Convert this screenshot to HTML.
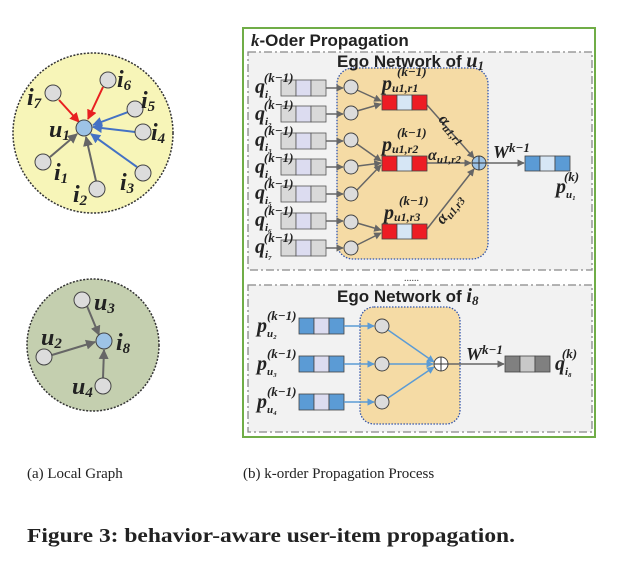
<!DOCTYPE html>
<html><head><meta charset="utf-8"><style>
html,body{margin:0;padding:0;background:#fff;}
svg{display:block;}
.m{font-family:"Liberation Serif",serif;font-weight:bold;font-style:italic;fill:#222;}
.s{font-family:"Liberation Sans",sans-serif;font-weight:bold;fill:#222;}
.c{font-family:"Liberation Serif",serif;fill:#222;}
</style></head><body>
<svg width="622" height="570" viewBox="0 0 622 570" xmlns="http://www.w3.org/2000/svg">
<defs>
<marker id="ag" viewBox="0 0 10 10" refX="9" refY="5" markerWidth="5" markerHeight="5" orient="auto"><path d="M0,0L10,5L0,10z" fill="#666"/></marker>
<marker id="ar" viewBox="0 0 10 10" refX="9" refY="5" markerWidth="5" markerHeight="5" orient="auto"><path d="M0,0L10,5L0,10z" fill="#e82020"/></marker>
<marker id="ab" viewBox="0 0 10 10" refX="9" refY="5" markerWidth="5" markerHeight="5" orient="auto"><path d="M0,0L10,5L0,10z" fill="#4472c4"/></marker>
<marker id="al" viewBox="0 0 10 10" refX="9" refY="5" markerWidth="5" markerHeight="5" orient="auto"><path d="M0,0L10,5L0,10z" fill="#5b9bd5"/></marker>
</defs>

<circle cx="93" cy="133" r="80" fill="#f7f5b8" stroke="#333" stroke-width="1.5" stroke-dasharray="2,1.5"/>
<g stroke-width="2">
<line x1="59" y1="100" x2="79" y2="122" stroke="#e82020" marker-end="url(#ar)"/>
<line x1="103" y1="87" x2="88" y2="119" stroke="#e82020" marker-end="url(#ar)"/>
<line x1="128" y1="112" x2="93" y2="125" stroke="#4472c4" marker-end="url(#ab)"/>
<line x1="135" y1="132" x2="93" y2="127" stroke="#4472c4" marker-end="url(#ab)"/>
<line x1="137" y1="167" x2="91" y2="134" stroke="#4472c4" marker-end="url(#ab)"/>
<line x1="50" y1="157" x2="77" y2="134" stroke="#666" marker-end="url(#ag)"/>
<line x1="96" y1="181" x2="86" y2="137" stroke="#666" marker-end="url(#ag)"/>
</g>
<g fill="#dcdcdc" stroke="#444" stroke-width="1">
<circle cx="53" cy="93" r="8"/><circle cx="108" cy="80" r="8"/><circle cx="135" cy="109" r="8"/>
<circle cx="143" cy="132" r="8"/><circle cx="143" cy="173" r="8"/><circle cx="97" cy="189" r="8"/><circle cx="43" cy="162" r="8"/>
</g>
<circle cx="84" cy="128" r="8" fill="#9dc3e6" stroke="#444"/>
<g class="m" font-size="24">
<text x="49" y="137">u<tspan font-size="15" dy="3">1</tspan></text>
<text x="27" y="105">i<tspan font-size="15" dy="3">7</tspan></text>
<text x="117" y="87">i<tspan font-size="15" dy="3">6</tspan></text>
<text x="141" y="108">i<tspan font-size="15" dy="3">5</tspan></text>
<text x="151" y="140">i<tspan font-size="15" dy="3">4</tspan></text>
<text x="120" y="190">i<tspan font-size="15" dy="3">3</tspan></text>
<text x="73" y="202">i<tspan font-size="15" dy="3">2</tspan></text>
<text x="54" y="180">i<tspan font-size="15" dy="3">1</tspan></text>
</g>

<circle cx="93" cy="345" r="66" fill="#c4cfaf" stroke="#333" stroke-width="1.5" stroke-dasharray="2,1.5"/>
<g stroke-width="2" stroke="#666">
<line x1="87" y1="306" x2="99" y2="335" marker-end="url(#ag)"/>
<line x1="52" y1="355" x2="95" y2="342" marker-end="url(#ag)"/>
<line x1="103" y1="378" x2="104" y2="350" marker-end="url(#ag)"/>
</g>
<g fill="#dcdcdc" stroke="#444"><circle cx="82" cy="300" r="8"/><circle cx="44" cy="357" r="8"/><circle cx="103" cy="386" r="8"/></g>
<circle cx="104" cy="341" r="8" fill="#9dc3e6" stroke="#444"/>
<g class="m" font-size="24">
<text x="94" y="310">u<tspan font-size="15" dy="3">3</tspan></text>
<text x="41" y="345">u<tspan font-size="15" dy="3">2</tspan></text>
<text x="116" y="350">i<tspan font-size="15" dy="3">8</tspan></text>
<text x="72" y="394">u<tspan font-size="15" dy="3">4</tspan></text>
</g>

<rect x="243" y="28" width="352" height="409" fill="#fff" stroke="#70ad47" stroke-width="2"/>
<rect x="248" y="52" width="344" height="218" fill="#f2f2f2" stroke="#888" stroke-width="1.3" stroke-dasharray="8,3,2,3"/>
<rect x="248" y="285" width="344" height="147" fill="#f2f2f2" stroke="#888" stroke-width="1.3" stroke-dasharray="8,3,2,3"/>
<text x="251" y="46" class="s" font-size="17"><tspan font-style="italic" font-family="Liberation Serif,serif">k</tspan>-Oder Propagation</text>
<text x="404" y="281" font-size="10" fill="#444">......</text>
<rect x="337" y="68" width="151" height="191" rx="16" fill="#f5dba5" stroke="#3355aa" stroke-width="1.3" stroke-dasharray="1.5,1.5"/>
<text x="337" y="67" class="s" font-size="17">Ego Network of <tspan class="m" font-size="20">u</tspan><tspan class="m" font-size="13" dy="3">1</tspan></text>

<g stroke="#555" stroke-width="0.8">
<rect x="281" y="80" width="15" height="16" fill="#d9d9d9"/><rect x="296" y="80" width="15" height="16" fill="#dcdcf0"/><rect x="311" y="80" width="15" height="16" fill="#d9d9d9"/>
<rect x="281" y="106" width="15" height="16" fill="#d9d9d9"/><rect x="296" y="106" width="15" height="16" fill="#dcdcf0"/><rect x="311" y="106" width="15" height="16" fill="#d9d9d9"/>
<rect x="281" y="133" width="15" height="16" fill="#d9d9d9"/><rect x="296" y="133" width="15" height="16" fill="#dcdcf0"/><rect x="311" y="133" width="15" height="16" fill="#d9d9d9"/>
<rect x="281" y="159" width="15" height="16" fill="#d9d9d9"/><rect x="296" y="159" width="15" height="16" fill="#dcdcf0"/><rect x="311" y="159" width="15" height="16" fill="#d9d9d9"/>
<rect x="281" y="186" width="15" height="16" fill="#d9d9d9"/><rect x="296" y="186" width="15" height="16" fill="#dcdcf0"/><rect x="311" y="186" width="15" height="16" fill="#d9d9d9"/>
<rect x="281" y="213" width="15" height="16" fill="#d9d9d9"/><rect x="296" y="213" width="15" height="16" fill="#dcdcf0"/><rect x="311" y="213" width="15" height="16" fill="#d9d9d9"/>
<rect x="281" y="240" width="15" height="16" fill="#d9d9d9"/><rect x="296" y="240" width="15" height="16" fill="#dcdcf0"/><rect x="311" y="240" width="15" height="16" fill="#d9d9d9"/>
</g>
<g stroke="#666" stroke-width="1.5">
<line x1="326" y1="88" x2="343" y2="88" marker-end="url(#ag)"/>
<line x1="326" y1="114" x2="343" y2="114" marker-end="url(#ag)"/>
<line x1="326" y1="141" x2="343" y2="141" marker-end="url(#ag)"/>
<line x1="326" y1="167" x2="343" y2="167" marker-end="url(#ag)"/>
<line x1="326" y1="194" x2="343" y2="194" marker-end="url(#ag)"/>
<line x1="326" y1="221" x2="343" y2="221" marker-end="url(#ag)"/>
<line x1="326" y1="248" x2="343" y2="248" marker-end="url(#ag)"/>
<line x1="357" y1="90" x2="381" y2="101" marker-end="url(#ag)"/>
<line x1="357" y1="111" x2="381" y2="104" marker-end="url(#ag)"/>
<line x1="357" y1="144" x2="381" y2="161" marker-end="url(#ag)"/>
<line x1="358" y1="166" x2="381" y2="163" marker-end="url(#ag)"/>
<line x1="357" y1="190" x2="381" y2="165" marker-end="url(#ag)"/>
<line x1="357" y1="223" x2="381" y2="230" marker-end="url(#ag)"/>
<line x1="357" y1="245" x2="381" y2="233" marker-end="url(#ag)"/>
<line x1="427" y1="105" x2="474" y2="158" marker-end="url(#ag)"/>
<line x1="427" y1="163" x2="471" y2="163" marker-end="url(#ag)"/>
<line x1="427" y1="229" x2="474" y2="169" marker-end="url(#ag)"/>
<line x1="486" y1="163" x2="524" y2="163" marker-end="url(#ag)"/>
</g>
<g fill="#dcdcdc" stroke="#444">
<circle cx="351" cy="87" r="7"/><circle cx="351" cy="113" r="7"/><circle cx="351" cy="140" r="7"/><circle cx="351" cy="167" r="7"/><circle cx="351" cy="194" r="7"/><circle cx="351" cy="222" r="7"/><circle cx="351" cy="248" r="7"/>
</g>
<g stroke="#444" stroke-width="0.8">
<rect x="382" y="95" width="15" height="15" fill="#ed1c24"/><rect x="397" y="95" width="15" height="15" fill="#d6e6f5"/><rect x="412" y="95" width="15" height="15" fill="#ed1c24"/>
<rect x="382" y="156" width="15" height="15" fill="#ed1c24"/><rect x="397" y="156" width="15" height="15" fill="#d6e6f5"/><rect x="412" y="156" width="15" height="15" fill="#ed1c24"/>
<rect x="382" y="224" width="15" height="15" fill="#ed1c24"/><rect x="397" y="224" width="15" height="15" fill="#d6e6f5"/><rect x="412" y="224" width="15" height="15" fill="#ed1c24"/>
<rect x="525" y="156" width="15" height="15" fill="#5b9bd5"/><rect x="540" y="156" width="15" height="15" fill="#d6e6f5"/><rect x="555" y="156" width="15" height="15" fill="#5b9bd5"/>
</g>
<circle cx="479" cy="163" r="7" fill="#9dc3e6" stroke="#444"/>
<path d="M472,163h14M479,156v14" stroke="#333" stroke-width="1"/>

<g class="m" font-size="20">
<text x="255" y="93">q<tspan font-size="11" dy="5">i₁</tspan><tspan font-size="13" dx="-8" dy="-16">(k−1)</tspan></text>
<text x="255" y="120">q<tspan font-size="11" dy="5">i₂</tspan><tspan font-size="13" dx="-8" dy="-16">(k−1)</tspan></text>
<text x="255" y="146">q<tspan font-size="11" dy="5">i₃</tspan><tspan font-size="13" dx="-8" dy="-16">(k−1)</tspan></text>
<text x="255" y="173">q<tspan font-size="11" dy="5">i₄</tspan><tspan font-size="13" dx="-8" dy="-16">(k−1)</tspan></text>
<text x="255" y="199">q<tspan font-size="11" dy="5">i₅</tspan><tspan font-size="13" dx="-8" dy="-16">(k−1)</tspan></text>
<text x="255" y="226">q<tspan font-size="11" dy="5">i₆</tspan><tspan font-size="13" dx="-8" dy="-16">(k−1)</tspan></text>
<text x="255" y="253">q<tspan font-size="11" dy="5">i₇</tspan><tspan font-size="13" dx="-8" dy="-16">(k−1)</tspan></text>
<text x="382" y="90">p<tspan font-size="12" dy="2">u1,r1</tspan></text>
<text x="397" y="76" font-size="13">(k−1)</text>
<text x="382" y="151">p<tspan font-size="12" dy="2">u1,r2</tspan></text>
<text x="397" y="137" font-size="13">(k−1)</text>
<text x="384" y="219">p<tspan font-size="12" dy="2">u1,r3</tspan></text>
<text x="399" y="205" font-size="13">(k−1)</text>
<text x="428" y="160" font-size="16">α<tspan font-size="11" dy="3">u1,r2</tspan></text>
<text x="0" y="0" font-size="16" transform="translate(438,120) rotate(48)">α<tspan font-size="11" dy="3">u1,r1</tspan></text>
<text x="0" y="0" font-size="16" transform="translate(443,225) rotate(-52)">α<tspan font-size="11" dy="3">u1,r3</tspan></text>
<text x="493" y="158" font-size="18">W<tspan font-size="13" dy="-6">k−1</tspan></text>
<text x="556" y="193">p<tspan font-size="11" dy="5">u₁</tspan><tspan font-size="13" dx="-12" dy="-17">(k)</tspan></text>
</g>

<rect x="360" y="307" width="100" height="117" rx="14" fill="#f5dba5" stroke="#3355aa" stroke-width="1.3" stroke-dasharray="1.5,1.5"/>
<text x="337" y="302" class="s" font-size="17">Ego Network of <tspan class="m" font-size="20">i</tspan><tspan class="m" font-size="13" dy="3">8</tspan></text>
<g stroke="#444" stroke-width="0.8">
<rect x="299" y="318" width="15" height="16" fill="#5b9bd5"/><rect x="314" y="318" width="15" height="16" fill="#dcdcf0"/><rect x="329" y="318" width="15" height="16" fill="#5b9bd5"/>
<rect x="299" y="356" width="15" height="16" fill="#5b9bd5"/><rect x="314" y="356" width="15" height="16" fill="#dcdcf0"/><rect x="329" y="356" width="15" height="16" fill="#5b9bd5"/>
<rect x="299" y="394" width="15" height="16" fill="#5b9bd5"/><rect x="314" y="394" width="15" height="16" fill="#dcdcf0"/><rect x="329" y="394" width="15" height="16" fill="#5b9bd5"/>
<rect x="505" y="356" width="15" height="16" fill="#808080"/><rect x="520" y="356" width="15" height="16" fill="#c8c8c8"/><rect x="535" y="356" width="15" height="16" fill="#808080"/>
</g>
<g stroke="#5b9bd5" stroke-width="1.5">
<line x1="344" y1="326" x2="374" y2="326" marker-end="url(#al)"/>
<line x1="344" y1="364" x2="374" y2="364" marker-end="url(#al)"/>
<line x1="344" y1="402" x2="374" y2="402" marker-end="url(#al)"/>
<line x1="388" y1="330" x2="434" y2="362" marker-end="url(#al)"/>
<line x1="389" y1="364" x2="433" y2="364" marker-end="url(#al)"/>
<line x1="388" y1="398" x2="434" y2="367" marker-end="url(#al)"/>
</g>
<line x1="448" y1="364" x2="504" y2="364" stroke="#666" stroke-width="1.5" marker-end="url(#ag)"/>
<g fill="#dcdcdc" stroke="#444"><circle cx="382" cy="326" r="7"/><circle cx="382" cy="364" r="7"/><circle cx="382" cy="402" r="7"/></g>
<circle cx="441" cy="364" r="7" fill="#fff" stroke="#444"/>
<path d="M434,364h14M441,357v14" stroke="#333" stroke-width="1"/>
<g class="m" font-size="20">
<text x="257" y="332">p<tspan font-size="11" dy="5">u₂</tspan><tspan font-size="13" dx="-10" dy="-17">(k−1)</tspan></text>
<text x="257" y="370">p<tspan font-size="11" dy="5">u₃</tspan><tspan font-size="13" dx="-10" dy="-17">(k−1)</tspan></text>
<text x="257" y="408">p<tspan font-size="11" dy="5">u₄</tspan><tspan font-size="13" dx="-10" dy="-17">(k−1)</tspan></text>
<text x="466" y="360" font-size="18">W<tspan font-size="13" dy="-6">k−1</tspan></text>
<text x="555" y="370">q<tspan font-size="11" dy="5">i₈</tspan><tspan font-size="13" dx="-10" dy="-17">(k)</tspan></text>
</g>

<text x="27" y="478" class="c" font-size="15">(a)  Local Graph</text>
<text x="243" y="478" class="c" font-size="15">(b)  k-order Propagation Process</text>
<text x="27" y="542" class="c" font-size="20" font-weight="bold" textLength="488" lengthAdjust="spacingAndGlyphs">Figure 3: behavior-aware user-item propagation.</text>
</svg>
</body></html>
